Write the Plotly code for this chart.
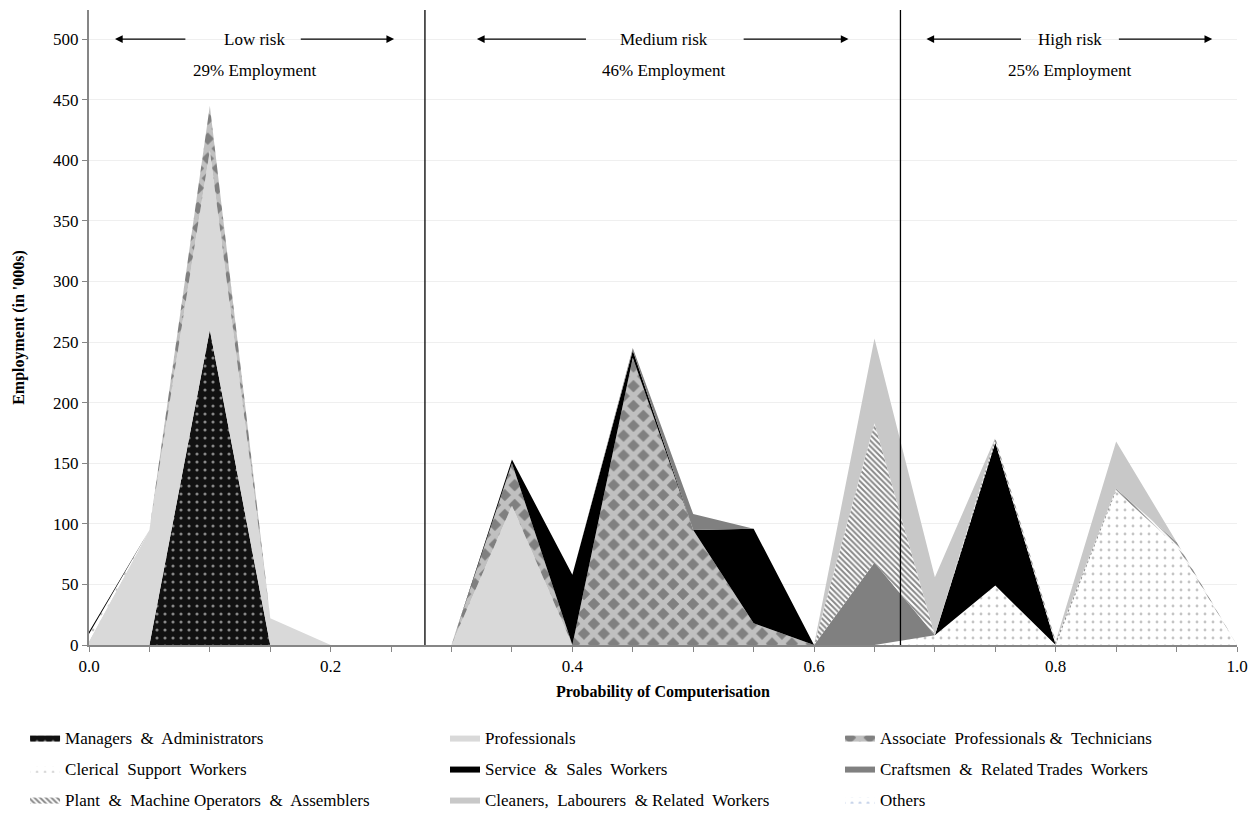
import plotly.graph_objects as go

# ---------------- data ----------------
bins = ["0.00", "0.05", "0.10", "0.15", "0.20", "0.25", "0.30", "0.35", "0.40", "0.45",
        "0.50", "0.55", "0.60", "0.65", "0.70", "0.75", "0.80", "0.85", "0.90", "1.00"]
tick_labels = {"0.00": "0.0", "0.20": "0.2", "0.40": "0.4", "0.60": "0.6", "0.80": "0.8", "1.00": "1.0"}

managers = [0, 0, 260, 0, 0, 0, 0, 0, 0, 0, 0, 0, 0, 0, 0, 0, 0, 0, 0, 0]
professionals = [3, 95, 148, 22, 0, 0, 0, 115, 0, 0, 0, 0, 0, 0, 0, 0, 0, 0, 0, 0]
associate = [0, 0, 37, 0, 0, 0, 0, 35, 0, 237, 95, 18, 0, 0, 0, 0, 0, 0, 0, 0]
clerical = [6, 0, 0, 0, 0, 0, 0, 0, 0, 0, 0, 0, 0, 0, 8, 49, 0, 127, 82, 0]
service = [2, 0, 0, 0, 0, 0, 0, 3, 58, 6, 0, 78, 0, 0, 0, 118, 0, 0, 0, 0]
craftsmen = [0, 0, 0, 0, 0, 0, 0, 0, 0, 2, 13, 0, 0, 68, 0, 0, 0, 0, 0, 0]
plant = [0, 0, 0, 0, 0, 0, 0, 0, 0, 0, 0, 0, 0, 115, 0, 4, 3, 2, 3, 0]
cleaners = [0, 0, 0, 0, 0, 0, 0, 0, 0, 0, 0, 0, 0, 70, 48, 0, 0, 39, 0, 0]
others = [0, 0, 0, 0, 0, 0, 0, 0, 0, 0, 0, 0, 0, 0, 0, 0, 0, 0, 0, 0]

series_names = ["Managers  &  Administrators", "Professionals", "Associate  Professionals &  Technicians",
                "Clerical  Support  Workers", "Service  &  Sales  Workers", "Craftsmen  &  Related Trades  Workers",
                "Plant  &  Machine Operators  &  Assemblers", "Cleaners,  Labourers  & Related  Workers", "Others"]
series_values = [managers, professionals, associate, clerical, service, craftsmen, plant, cleaners, others]

risk_bands = ["Low risk", "Medium risk", "High risk"]
risk_shares = ["29% Employment", "46% Employment", "25% Employment"]

# ---------------- styles ----------------
FONT = "Liberation Serif"
styles = [
    dict(fillcolor="#111111", fillpattern=dict(shape=".", bgcolor="#111111", fgcolor="#ffffff", size=8, solidity=0.12)),
    dict(fillcolor="#d9d9d9"),
    dict(fillcolor="#808080", fillpattern=dict(shape="x", bgcolor="#808080", fgcolor="#ffffff", size=14, solidity=0.6)),
    dict(fillcolor="#ffffff", fillpattern=dict(shape=".", bgcolor="#ffffff", fgcolor="#8a8a8a", size=8, solidity=0.1)),
    dict(fillcolor="#000000"),
    dict(fillcolor="#808080"),
    dict(fillcolor="#ffffff", fillpattern=dict(shape="\\", bgcolor="#ffffff", fgcolor="#111111", size=4, solidity=0.5)),
    dict(fillcolor="#c8c8c8"),
    dict(fillcolor="#ffffff", fillpattern=dict(shape=".", bgcolor="#ffffff", fgcolor="#6f8fc8", size=8, solidity=0.15)),
]

# legend grid: 3 columns x 3 rows (row-wise order)
col_x = [-0.0557, 0.3101, 0.6542]
row_y = [-0.1465, -0.1953, -0.2441]

fig = go.Figure()
layout_legends = {}
for i, (name, vals, st) in enumerate(zip(series_names, series_values, styles)):
    lg = "legend" if i == 0 else f"legend{i + 1}"
    fig.add_trace(go.Scatter(
        x=bins, y=vals, name=name, mode="lines", stackgroup="one",
        line=dict(width=0), legend=lg, hoverinfo="x+y+name", **st))
    layout_legends[lg] = dict(orientation="h", xanchor="left", x=col_x[i % 3], yanchor="middle",
                              y=row_y[i // 3], font=dict(family=FONT, size=17, color="#000"),
                              itemwidth=30, bgcolor="rgba(0,0,0,0)", borderwidth=0)

# risk separators
for xpos in [5.56, 13.43]:
    fig.add_shape(type="line", xref="x", yref="paper", x0=xpos, x1=xpos, y0=0, y1=1,
                  line=dict(color="#000000", width=1.3))

# risk band annotations
centers = [2.74, 9.52, 16.23]
arrow_pairs = [((0.43, 1.62), (3.48, 5.05)), ((6.42, 8.25), (10.81, 12.57)), ((13.86, 15.45), (17.02, 18.59))]
for label, share, cx, (left, right) in zip(risk_bands, risk_shares, centers, arrow_pairs):
    fig.add_annotation(x=cx, y=500, text=label, showarrow=False, xref="x", yref="y",
                       font=dict(family=FONT, size=17, color="#000"))
    fig.add_annotation(x=cx, y=474, text=share, showarrow=False, xref="x", yref="y",
                       font=dict(family=FONT, size=17, color="#000"))
    fig.add_annotation(x=left[0], y=500, ax=left[1], ay=500, axref="x", ayref="y", xref="x", yref="y",
                       text="", showarrow=True, arrowhead=2, arrowsize=1.1, arrowwidth=1.4, arrowcolor="#000")
    fig.add_annotation(x=right[1], y=500, ax=right[0], ay=500, axref="x", ayref="y", xref="x", yref="y",
                       text="", showarrow=True, arrowhead=2, arrowsize=1.1, arrowwidth=1.4, arrowcolor="#000")

# page body adds an 8px margin, so the figure is sized to fit the 1260x813 window
fig.update_layout(
    width=1252, height=805,
    margin=dict(l=81, r=23, t=2, b=168, autoexpand=False),
    paper_bgcolor="white", plot_bgcolor="white",
    font=dict(family=FONT, size=17, color="#000"),
    showlegend=True,
    xaxis=dict(
        type="category", range=[0, 19],
        tickmode="array", tickvals=bins, ticktext=[tick_labels.get(b, "") for b in bins],
        ticks="outside", ticklen=5, tickcolor="#868686", tickwidth=1,
        showline=True, linecolor="#868686", linewidth=2, showgrid=False, zeroline=False,
        tickfont=dict(family=FONT, size=17, color="#000"),
        title=dict(text="<b>Probability of Computerisation</b>", standoff=10,
                   font=dict(family=FONT, size=16, color="#000")),
    ),
    yaxis=dict(
        range=[0, 524], tickmode="linear", tick0=0, dtick=50,
        ticks="outside", ticklen=5, tickcolor="#868686",
        showline=True, linecolor="#868686", linewidth=2,
        showgrid=True, gridcolor="#efefef", gridwidth=1, zeroline=False,
        tickfont=dict(family=FONT, size=17, color="#000"),
        title=dict(text="<b>Employment (in '000s)</b>", standoff=24,
                   font=dict(family=FONT, size=16, color="#000")),
    ),
    **layout_legends,
)

fig.write_html("out.html")
